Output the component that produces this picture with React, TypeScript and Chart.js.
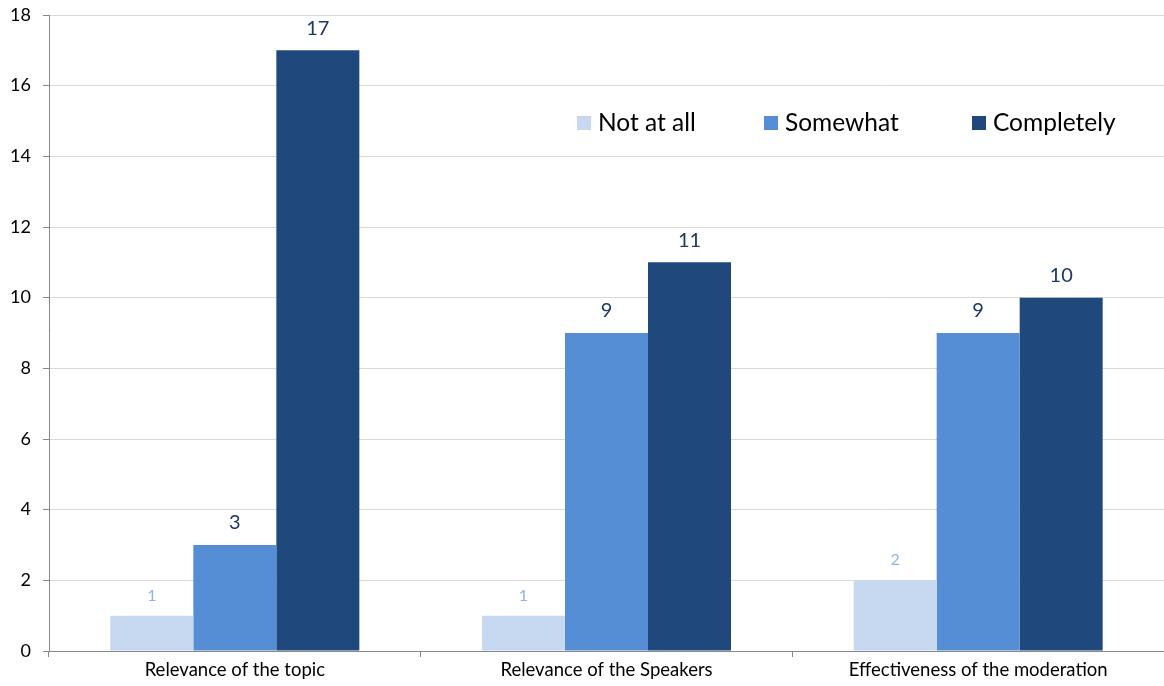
import React, { useEffect, useRef } from "react";
import { Chart, registerables } from "chart.js";

Chart.register(...registerables);

const categories = ["Relevance of the topic", "Relevance of the Speakers", "Effectiveness of the moderation"];
const seriesNames = ["Not at all", "Somewhat", "Completely"];
const notAtAll = [1, 1, 2];
const somewhat = [3, 9, 9];
const completely = [17, 11, 10];
const yTicks = [0, 2, 4, 6, 8, 10, 12, 14, 16, 18];

const colors = ["#C6D9F1", "#558ED5", "#1F497D"];
const labelColors = ["#8EB4E3", "#1F3864", "#1F3864"];
const labelSizes = [16, 20, 20];
const FONT = "Lato, 'Open Sans', sans-serif";

const valueLabels = {
  id: "valueLabels",
  afterDatasetsDraw(chart: any) {
    const ctx = chart.ctx;
    ctx.save();
    chart.data.datasets.forEach((ds: any, i: number) => {
      const meta = chart.getDatasetMeta(i);
      meta.data.forEach((bar: any, j: number) => {
        ctx.fillStyle = labelColors[i];
        ctx.font = `${labelSizes[i]}px ${FONT}`;
        ctx.textAlign = "center";
        ctx.textBaseline = "bottom";
        ctx.fillText(String(ds.data[j]), bar.x, bar.y - 12);
      });
    });
    ctx.restore();
  },
};

const insideLegend = {
  id: "insideLegend",
  afterDraw(chart: any) {
    const ctx = chart.ctx;
    const xs = [577, 764, 972];
    const y = 123;
    ctx.save();
    ctx.font = `24.5px ${FONT}`;
    ctx.textBaseline = "middle";
    ctx.textAlign = "left";
    chart.data.datasets.forEach((ds: any, i: number) => {
      ctx.fillStyle = ds.backgroundColor;
      ctx.fillRect(xs[i], y - 7, 14, 14);
      ctx.fillStyle = "#000";
      ctx.fillText(ds.label, xs[i] + 21, y);
    });
    ctx.restore();
  },
};

export default function App() {
  const ref = useRef<HTMLCanvasElement>(null);
  useEffect(() => {
    const chart = new Chart(ref.current!, {
      type: "bar",
      data: {
        labels: categories,
        datasets: [notAtAll, somewhat, completely].map((d, i) => ({
          label: seriesNames[i],
          data: d,
          backgroundColor: colors[i],
          borderWidth: 0,
          barPercentage: 1,
          categoryPercentage: 0.67,
        })),
      },
      options: {
        animation: false,
        responsive: false,
        devicePixelRatio: 1,
        layout: { padding: { top: 15, right: 0, left: 0, bottom: 0 } },
        plugins: { legend: { display: false }, tooltip: { enabled: false } },
        scales: {
          x: {
            grid: { drawOnChartArea: false, drawTicks: true, tickLength: 6, color: "#888", offset: true },
            border: { color: "#888" },
            ticks: { color: "#000", font: { family: FONT, size: 18.5 }, padding: 2 },
            afterFit: (s: any) => { s.height = 35; s.paddingLeft = 0; s.paddingRight = 0; },
          },
          y: {
            min: 0,
            max: 18,
            afterBuildTicks: (s: any) => { s.ticks = yTicks.map((v) => ({ value: v })); },
            grid: { color: "#D9D9D9", tickLength: 6, tickColor: "#888" },
            border: { color: "#888" },
            ticks: { color: "#000", font: { family: FONT, size: 18 }, padding: 12 },
            afterFit: (s: any) => { s.width = 49; s.paddingTop = 0; s.paddingBottom = 0; },
          },
        },
      },
      plugins: [valueLabels, insideLegend],
    });
    return () => chart.destroy();
  }, []);
  return (
    <div style={{ position: "fixed", left: 0, top: 0, width: 1164, height: 686, background: "#fff" }}>
      <canvas ref={ref} width={1164} height={686} />
    </div>
  );
}
